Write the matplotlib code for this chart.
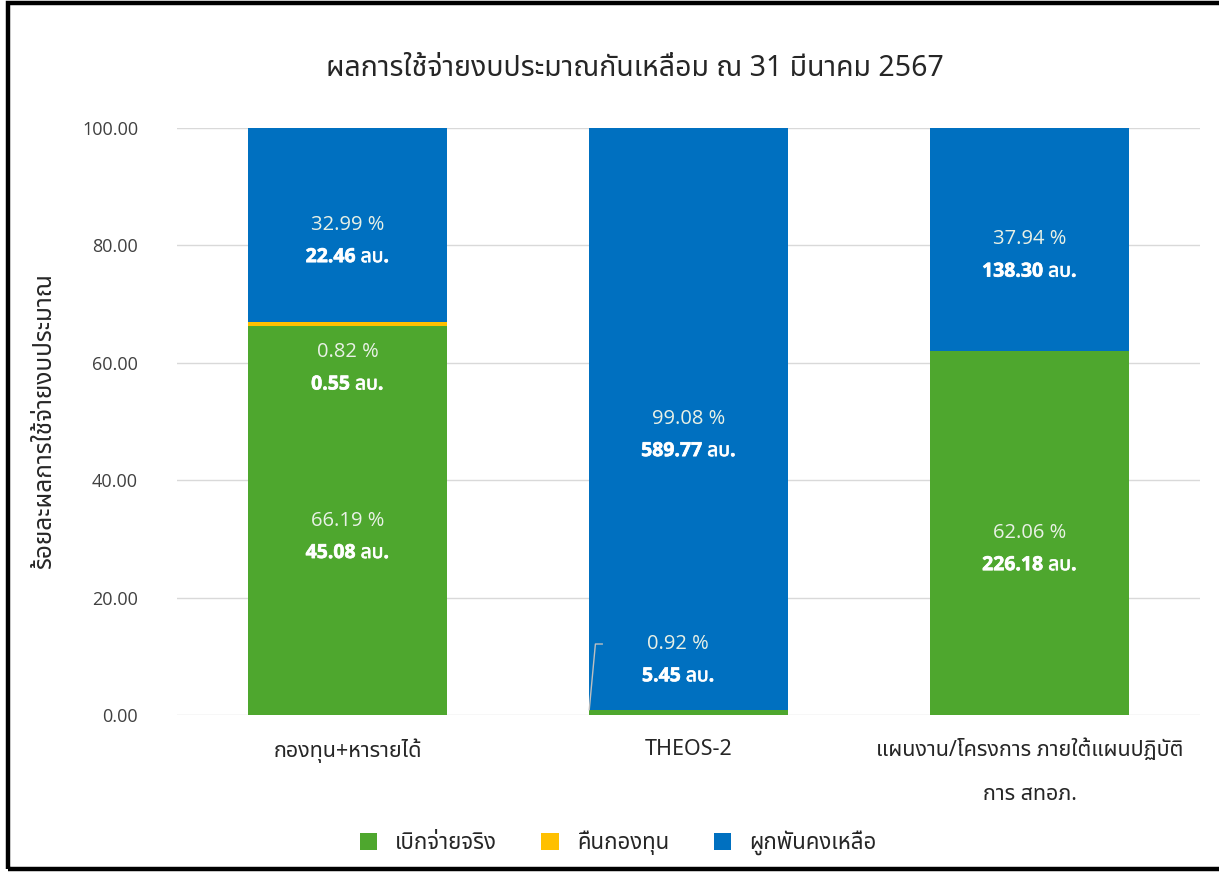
import matplotlib
matplotlib.use("Agg")
import matplotlib.pyplot as plt
from matplotlib import font_manager
from matplotlib.ft2font import FT2Font
from matplotlib.patches import Rectangle
import matplotlib.patheffects as pe
import numpy as np

# ---------------- data ----------------
categories = ["กองทุน+หารายได้", "THEOS-2", "แผนงาน/โครงการ ภายใต้แผนปฏิบัติ\nการ สทอภ."]
series_names = ["เบิกจ่ายจริง", "คืนกองทุน", "ผูกพันคงเหลือ"]
pct_spent = [66.19, 0.92, 62.06]
pct_returned = [0.82, 0.0, 0.0]
pct_committed = [32.99, 99.08, 37.94]
amt_spent = [45.08, 5.45, 226.18]
amt_returned = [0.55, 0.0, 0.0]
amt_committed = [22.46, 589.77, 138.30]
yticks = [0, 20, 40, 60, 80, 100]
title = "ผลการใช้จ่ายงบประมาณกันเหลื่อม ณ 31 มีนาคม 2567"
ylabel = "ร้อยละผลการใช้จ่ายงบประมาณ"

# ---------------- fonts ----------------
def find_thai_family():
    seen = set()
    prefs = []
    for f in font_manager.fontManager.ttflist:
        if f.name in seen:
            continue
        try:
            cm = FT2Font(f.fname).get_charmap()
        except Exception:
            continue
        if 0x0E01 in cm and 0x0E40 in cm:
            seen.add(f.name)
            prefs.append(f.name)
    order = ["Tahoma", "Leelawadee", "Noto Sans Thai", "Noto Sans Thai UI", "Loma", "Garuda", "Norasi"]
    for o in order:
        if o in prefs:
            return o
    return prefs[0] if prefs else None

thai = find_thai_family()
fams = ([thai] if thai else []) + ["DejaVu Sans"]
plt.rcParams['font.family'] = fams
num_fams = ["Open Sans"] + fams

GREEN = "#4EA72E"
YELLOW = "#FFC000"
BLUE = "#0070C0"

fig = plt.figure(figsize=(12.19, 8.72), dpi=100)
ax = fig.add_axes([0.1452, 0.18, 0.8392, 0.6732])

x = np.arange(len(categories))
w = 0.586
b1 = ax.bar(x, pct_spent, w, color=GREEN, label=series_names[0], zorder=3)
bottom2 = np.array(pct_spent)
b2 = ax.bar(x, pct_returned, w, bottom=bottom2, color=YELLOW, label=series_names[1], zorder=3)
bottom3 = bottom2 + np.array(pct_returned)
b3 = ax.bar(x, pct_committed, w, bottom=bottom3, color=BLUE, label=series_names[2], zorder=3)

ax.set_xlim(-0.5, 2.5)
ax.set_ylim(0, 100)
ax.set_yticks(yticks)
ax.set_yticklabels([f"{v:.2f}" for v in yticks], fontsize=13, color="#404040", family=num_fams)
ax.tick_params(axis='y', length=0, pad=28)
ax.tick_params(axis='x', length=0, pad=17)
ax.set_xticks(x)
ax.set_xticklabels(categories, fontsize=15.5, color="#262626", linespacing=2.45, va="top")
ax.yaxis.grid(True, color="#D9D9D9", linewidth=1, zorder=0)
for s in ax.spines.values():
    s.set_visible(False)
ax.set_ylabel(ylabel, fontsize=17.5, color="#262626", labelpad=18)

bold_fx = [pe.withStroke(linewidth=0.45, foreground="white")]

def lab(xi, y, pct, amt, dy=5.5):
    ax.text(xi, y, f"{pct:.2f} %", ha="center", va="center", color="#E9F1E6",
            fontsize=14.5, family=num_fams, zorder=5)
    ax.text(xi, y - dy, f"{amt:.2f} ลบ.", ha="center", va="center", color="white",
            fontsize=14, fontweight="bold", family=num_fams, zorder=5, path_effects=bold_fx)

# committed labels: centred in segment
for i in range(3):
    c = bottom3[i] + pct_committed[i] / 2
    lab(x[i], c, pct_committed[i], amt_committed[i])
# spent labels
lab(x[0], pct_spent[0] / 2, pct_spent[0], amt_spent[0])
lab(x[2], pct_spent[2] / 2, pct_spent[2], amt_spent[2])
# small segments with moved labels
lab(x[0], 61.8, pct_returned[0], amt_returned[0])
lab(x[1] - 0.03, 12.1, pct_spent[1], amt_spent[1])
# leader line for THEOS-2 spent
ax.plot([x[1] - w / 2 + 0.002, x[1] - w / 2 + 0.02, x[1] - w / 2 + 0.04],
        [pct_spent[1], 12.1, 12.1], color="#BFBFBF", lw=1, zorder=4)

fig.text(635 / 1219, 1 - 68 / 872, title, ha="center", va="center", fontsize=20.5, color="#262626")

leg = fig.legend(handles=[b1, b2, b3], labels=series_names, loc="center",
                 bbox_to_anchor=(618 / 1219, 1 - 843 / 872), ncol=3, frameon=False, fontsize=16,
                 handlelength=0.8, handleheight=0.8, columnspacing=2.0, handletextpad=0.8)
for t in leg.get_texts():
    t.set_color("#262626")

# frame border
fig.patches.append(Rectangle((8 / 1219, 3 / 872), 1.2, 866 / 872, transform=fig.transFigure,
                             fill=False, edgecolor="black", linewidth=3.2, zorder=10))

fig.savefig("out.png", dpi=100)
